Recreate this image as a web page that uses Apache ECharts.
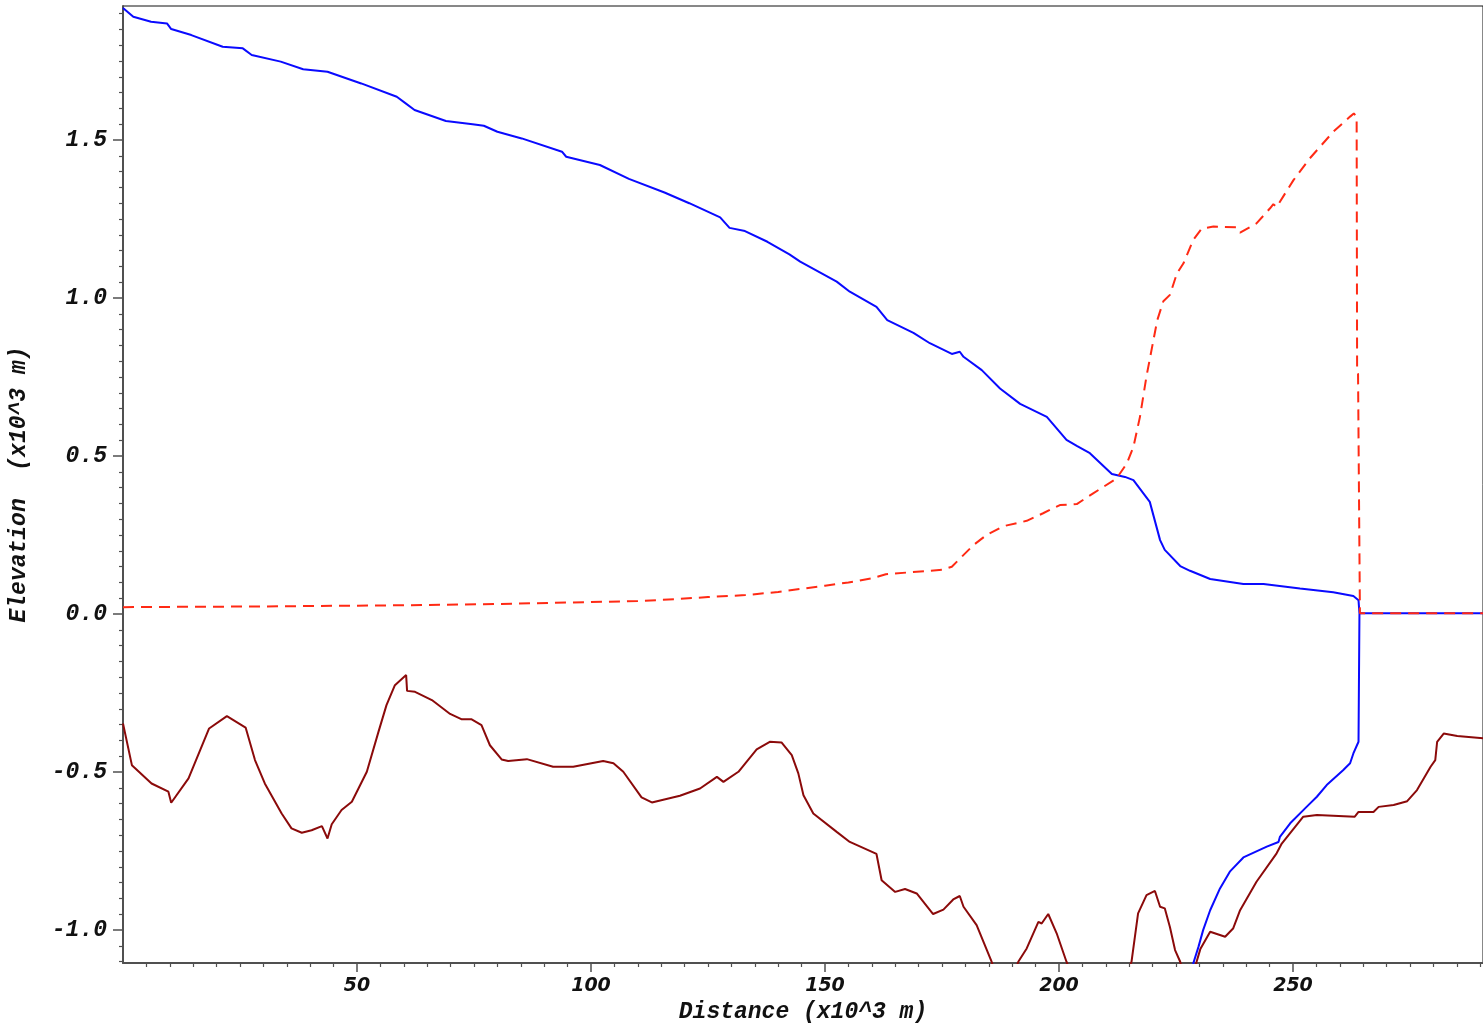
<!DOCTYPE html>
<html>
<head>
<meta charset="utf-8">
<script src="https://cdn.jsdelivr.net/npm/echarts@6/dist/echarts.min.js"></script>
<style>
html,body{margin:0;padding:0;background:#fff;}
#chart{width:1483px;height:1023px;}
</style>
</head>
<body>
<div id="chart"></div>
<script>
// Water surface (blue)
const bluePath = [[0,1.918],[2.2,1.89],[6.0,1.874],[9.4,1.869],[10.3,1.851],[14.6,1.832],[21.3,1.795],[25.6,1.79],[27.5,1.769],[33.7,1.748],[38.5,1.724],[43.7,1.716],[50.9,1.679],[58.5,1.637],[60.4,1.616],[62.3,1.595],[69.0,1.56],[74.7,1.55],[77.1,1.545],[80.0,1.526],[85.2,1.505],[93.8,1.463],[94.7,1.447],[101.9,1.421],[108.1,1.377],[115.7,1.334],[121.0,1.3],[127.6,1.255],[129.6,1.222],[132.9,1.212],[137.7,1.178],[142.4,1.138],[144.7,1.115],[152.5,1.052],[155.3,1.02],[161.0,0.972],[163.3,0.93],[168.9,0.89],[172.4,0.857],[177.1,0.823],[178.8,0.83],[179.6,0.814],[183.5,0.772],[187.4,0.714],[191.7,0.665],[197.4,0.624],[201.6,0.551],[203.8,0.532],[206.6,0.509],[211.3,0.443],[214.1,0.434],[215.9,0.424],[219.4,0.355],[221.6,0.234],[222.6,0.203],[225.9,0.152],[228.0,0.137],[232.3,0.111],[239.4,0.095],[243.7,0.095],[251.5,0.081],[258.6,0.069],[262.9,0.057],[264.0,0.044],[264.2,0.002],[264.1,-0.2],[264.0,-0.404],[262.9,-0.441],[262.2,-0.472],[260.7,-0.494],[257.2,-0.541],[255.1,-0.578],[252.9,-0.61],[249.4,-0.662],[247.2,-0.705],[246.9,-0.721],[244.4,-0.736],[239.4,-0.77],[236.5,-0.815],[234.4,-0.868],[232.3,-0.937],[230.8,-1.0],[229.8,-1.053],[228.7,-1.105],[228.3,-1.2]];
const blueFlat = [[264.2,0.003],[290.6,0.003]];
// Red dashed
const redPath = [[0,0.022],[28,0.024],[60,0.028],[80,0.032],[100,0.038],[110,0.041],[118,0.047],[125,0.054],[133,0.06],[140,0.07],[146,0.082],[150,0.09],[155,0.1],[160,0.113],[163,0.126],[168,0.132],[175,0.14],[177.1,0.15],[181.7,0.218],[184.5,0.25],[188.1,0.278],[193.1,0.295],[196.6,0.319],[200.2,0.345],[203.8,0.348],[207.3,0.382],[212.3,0.429],[214.5,0.477],[215.9,0.529],[217.3,0.624],[218.7,0.753],[221.0,0.93],[222.3,0.99],[223.7,1.01],[225.2,1.078],[226.6,1.11],[228.7,1.184],[230.5,1.22],[233.0,1.226],[238.0,1.224],[238.7,1.207],[242.2,1.236],[245.1,1.284],[245.8,1.297],[246.5,1.288],[250.1,1.373],[253.6,1.442],[258.6,1.526],[262.2,1.574],[263.0,1.584],[263.6,1.574],[263.7,0.77],[263.9,0.76],[264.3,0.003],[290.6,0.003]];
// Bed (brown)
const bedPath = [[0,-0.346],[0.2,-0.35],[1.9,-0.478],[6.1,-0.536],[9.7,-0.562],[10.3,-0.597],[14.0,-0.52],[18.4,-0.362],[22.2,-0.323],[26.2,-0.359],[28.2,-0.462],[30.3,-0.536],[33.9,-0.631],[36.0,-0.678],[38.2,-0.692],[40.3,-0.684],[42.5,-0.671],[43.7,-0.71],[44.6,-0.665],[46.7,-0.62],[48.9,-0.594],[52.1,-0.499],[54.6,-0.372],[56.3,-0.288],[58.1,-0.225],[60.5,-0.193],[60.7,-0.243],[62.4,-0.246],[66.0,-0.272],[69.9,-0.316],[72.4,-0.333],[74.5,-0.333],[76.6,-0.351],[78.4,-0.415],[80.9,-0.46],[82.3,-0.465],[86.3,-0.459],[91.9,-0.483],[96.2,-0.483],[102.6,-0.465],[104.8,-0.472],[106.9,-0.499],[110.8,-0.58],[113.0,-0.596],[119.0,-0.575],[123.3,-0.552],[126.9,-0.515],[128.3,-0.531],[131.5,-0.499],[135.4,-0.428],[138.2,-0.404],[140.7,-0.406],[142.9,-0.446],[144.3,-0.504],[145.4,-0.573],[147.5,-0.631],[152.5,-0.689],[155.3,-0.721],[161.0,-0.759],[162.1,-0.842],[165.0,-0.879],[167.1,-0.87],[169.6,-0.884],[173.1,-0.949],[175.3,-0.935],[177.4,-0.903],[178.8,-0.892],[179.6,-0.926],[182.4,-0.984],[185.6,-1.1],[188.4,-1.22],[191.3,-1.1],[193.1,-1.058],[195.6,-0.974],[196.3,-0.979],[197.7,-0.949],[199.5,-1.01],[201.6,-1.1],[208.5,-1.35],[215.5,-1.1],[216.9,-0.947],[218.7,-0.889],[220.5,-0.876],[221.6,-0.926],[222.6,-0.931],[223.7,-0.99],[224.8,-1.063],[225.9,-1.1],[227.6,-1.2],[229.4,-1.1],[230.2,-1.06],[232.3,-1.005],[235.5,-1.021],[237.2,-0.995],[238.7,-0.937],[242.2,-0.847],[246.5,-0.757],[247.6,-0.726],[252.2,-0.641],[255.1,-0.636],[263.2,-0.641],[264.0,-0.626],[267.2,-0.626],[268.3,-0.61],[271.5,-0.604],[274.4,-0.592],[276.5,-0.557],[279.4,-0.483],[280.4,-0.462],[280.8,-0.404],[282.2,-0.378],[285.1,-0.386],[290.6,-0.393]];

const xMajor = [50,100,150,200,250];
const yMajor = [-1.0,-0.5,0.0,0.5,1.0,1.5];
const xRange = [0, 290.6];
const yRange = [-1.104, 1.924];

const xMinor = [];
for (let i = 1; i * 5 <= 290; i++) { if (i % 10 !== 0) xMinor.push(i * 5); }
const yMinor = [];
for (let i = -22; i <= 38; i++) { if (i % 10 !== 0) yMinor.push(Math.round(i * 5) / 100); }

const axisColor = '#505050';
const chart = echarts.init(document.getElementById('chart'));
const labelFont = {fontFamily: 'Liberation Mono', fontStyle: 'italic', fontWeight: 'bold', fontSize: 23, color: '#111'};
chart.setOption({
  animation: false,
  backgroundColor: '#fff',
  grid: {left: 123, top: 6, right: 0, bottom: 60, containLabel: false, outerBoundsMode: 'none', show: true, borderColor: '#111', borderWidth: 1, backgroundColor: 'transparent'},
  xAxis: [{
    type: 'value', min: xRange[0], max: xRange[1],
    axisLine: {onZero: false, lineStyle: {color: axisColor, width: 2}},
    axisTick: {customValues: xMajor, length: 9, lineStyle: {color: axisColor, width: 1.5}},
    axisLabel: {customValues: xMajor, margin: 14, formatter: v => String(v), fontFamily: 'DejaVu Sans', fontStyle: 'italic', fontWeight: 'bold', fontSize: 19, color: '#111'},
    splitLine: {show: false},
    name: 'Distance (x10^3 m)', nameLocation: 'middle', nameGap: 38,
    nameTextStyle: labelFont
  }, {
    type: 'value', min: xRange[0], max: xRange[1], position: 'bottom',
    axisLine: {show: false, onZero: false},
    axisTick: {customValues: xMinor, length: 4, lineStyle: {color: axisColor, width: 1.2}},
    axisLabel: {show: false},
    splitLine: {show: false}
  }],
  yAxis: [{
    type: 'value', min: yRange[0], max: yRange[1],
    axisLine: {show: true, onZero: false, lineStyle: {color: axisColor, width: 2}},
    axisTick: {show: true, customValues: yMajor, length: 10, lineStyle: {color: axisColor, width: 1.5}},
    axisLabel: {customValues: yMajor, margin: 16, formatter: v => v.toFixed(1), ...labelFont},
    splitLine: {show: false},
    name: 'Elevation  (x10^3 m)', nameLocation: 'middle', nameRotate: 90, nameGap: 92,
    nameTextStyle: labelFont
  }, {
    type: 'value', min: yRange[0], max: yRange[1], position: 'left', offset: 0,
    axisLine: {show: false, onZero: false},
    axisTick: {show: true, customValues: yMinor, length: 4, lineStyle: {color: axisColor, width: 1.2}},
    axisLabel: {show: false},
    splitLine: {show: false}
  }],
  series: [
    {type: 'line', data: bedPath, showSymbol: false, symbol: 'none', clip: true, lineStyle: {color: '#8b0a0a', width: 2}, z: 2},
    {type: 'line', data: bluePath, showSymbol: false, symbol: 'none', clip: true, lineStyle: {color: '#0a0aff', width: 2}, z: 3},
    {type: 'line', data: blueFlat, showSymbol: false, symbol: 'none', clip: true, lineStyle: {color: '#0a0aff', width: 2}, z: 3},
    {type: 'line', data: redPath, showSymbol: false, symbol: 'none', clip: true, lineStyle: {color: '#ff2a14', width: 2, type: [11, 7]}, z: 4}
  ]
});
</script>
</body>
</html>
